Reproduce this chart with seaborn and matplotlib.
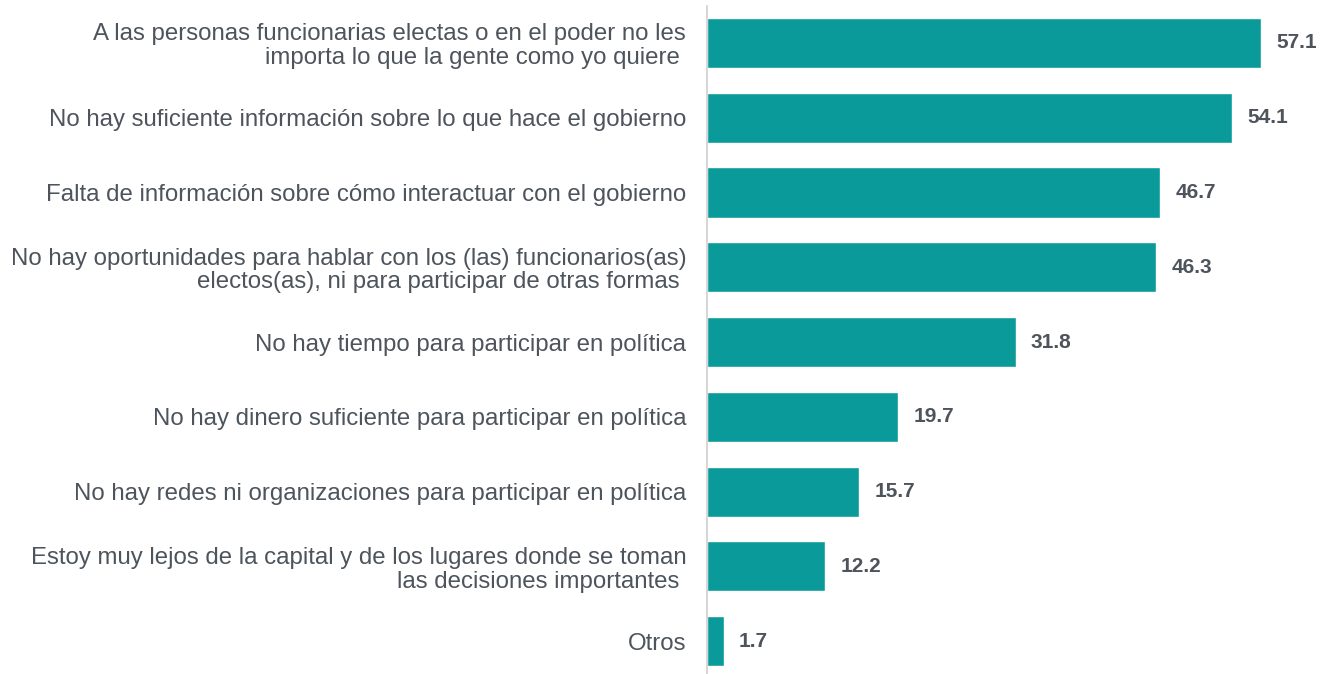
import matplotlib
matplotlib.use("Agg")
import matplotlib.pyplot as plt
import seaborn as sns
import pandas as pd

categorias = [
    "A las personas funcionarias electas o en el poder no les\nimporta lo que la gente como yo quiere ",
    "No hay suficiente información sobre lo que hace el gobierno",
    "Falta de información sobre cómo interactuar con el gobierno",
    "No hay oportunidades para hablar con los (las) funcionarios(as)\nelectos(as), ni para participar de otras formas ",
    "No hay tiempo para participar en política",
    "No hay dinero suficiente para participar en política",
    "No hay redes ni organizaciones para participar en política",
    "Estoy muy lejos de la capital y de los lugares donde se toman\nlas decisiones importantes ",
    "Otros",
]
valores = [57.1, 54.1, 46.7, 46.3, 31.8, 19.7, 15.7, 12.2, 1.7]

df = pd.DataFrame({"categoria": categorias, "valor": valores})

sns.set_style("white")
plt.rcParams['font.family'] = ['Liberation Sans', 'DejaVu Sans']

texto = '#4d545c'
fig = plt.figure(figsize=(13.27, 6.74), dpi=100)
ax = fig.add_axes([0.5328, 0.0, 0.4672, 0.9917])

sns.barplot(data=df, x="valor", y="categoria", orient="h", color="#0a9a9a",
            width=0.67, saturation=1, ax=ax)

ax.set_xlim(0, 63.9)
ax.set_ylim(8.44, -0.5)
ax.bar_label(ax.containers[0], fmt='%.1f', padding=11, fontsize=15,
             fontweight='bold', color=texto)

ax.set_xlabel('')
ax.set_ylabel('')
ax.set_xticks([])
ax.tick_params(axis='y', length=0, pad=15, labelsize=17.3, labelcolor=texto)
for lbl in ax.get_yticklabels():
    lbl.set_linespacing(1.1)
for s in ['top', 'right', 'bottom']:
    ax.spines[s].set_visible(False)
ax.spines['left'].set_color('#d0d0d0')
ax.spines['left'].set_linewidth(1.2)

fig.savefig('out.png', dpi=100)
